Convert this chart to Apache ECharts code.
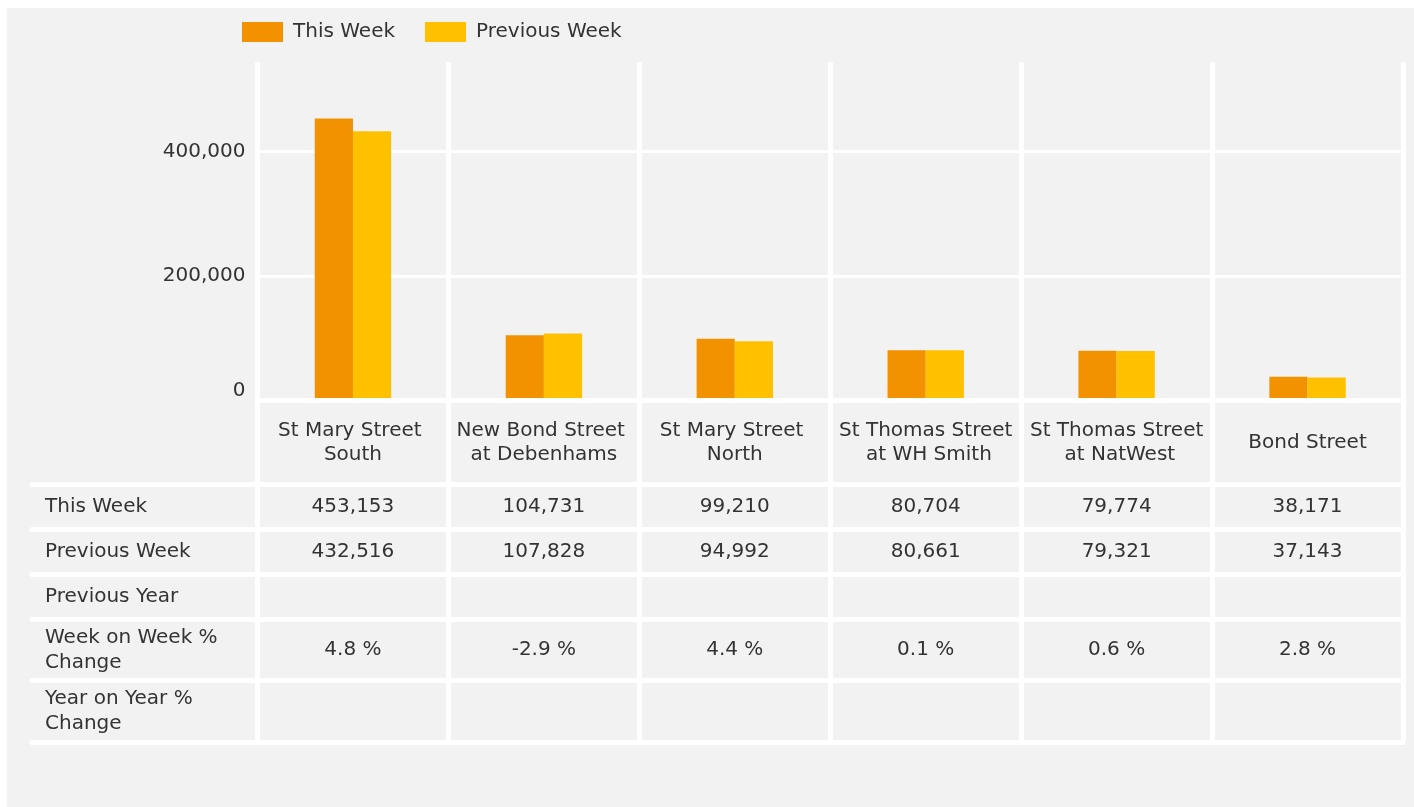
<!DOCTYPE html>
<html>
<head>
<meta charset="utf-8">
<title>Footfall by location</title>
<script src="https://cdn.jsdelivr.net/npm/echarts@6/dist/echarts.min.js"></script>
<style>
  html, body { margin: 0; padding: 0; background: #fff; }
  #chart { position: absolute; left: 7px; top: 8px; width: 1407px; height: 799px; }
</style>
</head>
<body>
<div id="chart"></div>
<script>
// data
const categories = ['St Mary Street South', 'New Bond Street at Debenhams', 'St Mary Street North', 'St Thomas Street at WH Smith', 'St Thomas Street at NatWest', 'Bond Street']
const thisWeek = [453153, 104731, 99210, 80704, 79774, 38171]
const previousWeek = [432516, 107828, 94992, 80661, 79321, 37143]
const previousYear = [null, null, null, null, null, null]
const weekOnWeekChange = [4.8, -2.9, 4.4, 0.1, 0.6, 2.8]
const yearOnYearChange = [null, null, null, null, null, null]
const seriesNames = ['This Week', 'Previous Week']
const rowNames = ['This Week', 'Previous Week', 'Previous Year', 'Week on Week % Change', 'Year on Year % Change']
const yTickStep = 200000

const FONT = 'DejaVu Sans'
const FONT_SIZE = 20
const TEXT = '#333333'
const LINE = '#ffffff'
const colors = ['#F39200', '#FFC000']

// layout (px, relative to the chart box)
const plotLeft = 250.5
const plotRight = 11
const plotTop = 54
const zeroY = 392.5
const labelLeft = 25
const labelWidth = 223
const rowHeights = [84, 45, 45, 45, 61, 62]

const fmtNum = v => v.toLocaleString('en-US')
const fmtPct = v => v.toFixed(1) + ' %'

const tableRows = [
  { name: '', values: categories, fmt: v => v },
  { name: rowNames[0], values: thisWeek, fmt: fmtNum },
  { name: rowNames[1], values: previousWeek, fmt: fmtNum },
  { name: rowNames[2], values: previousYear, fmt: fmtNum },
  { name: rowNames[3], values: weekOnWeekChange, fmt: fmtPct },
  { name: rowNames[4], values: yearOnYearChange, fmt: fmtPct }
]

const chart = echarts.init(document.getElementById('chart'))

const grid = [{ left: plotLeft, right: plotRight, top: plotTop, height: zeroY - plotTop }]
const xAxis = [{
  type: 'category',
  gridIndex: 0,
  data: categories,
  z: 3,
  axisLine: { lineStyle: { color: LINE, width: 5 } },
  axisTick: { show: false },
  axisLabel: { show: false },
  splitLine: { show: true, interval: 0, lineStyle: { color: LINE, width: 5 } }
}]
const yAxis = [{
  type: 'value',
  gridIndex: 0,
  min: 0,
  max: Math.max(...thisWeek, ...previousWeek) * 1.2,
  interval: yTickStep,
  axisLine: { show: false },
  axisTick: { show: false },
  axisLabel: {
    color: TEXT,
    fontFamily: FONT,
    fontSize: FONT_SIZE,
    margin: 12,
    showMaxLabel: false,
    verticalAlignMinLabel: 'bottom',
    formatter: v => (v % yTickStep === 0 ? fmtNum(v) : '')
  },
  splitLine: { show: true, showMaxLine: false, lineStyle: { color: LINE, width: 3 } }
}]

const series = seriesNames.map((name, k) => ({
  name: name,
  type: 'bar',
  xAxisIndex: 0,
  yAxisIndex: 0,
  data: k === 0 ? thisWeek : previousWeek,
  barGap: '0%',
  barCategoryGap: '60%',
  itemStyle: { color: colors[k] }
}))

let rowTop = zeroY
tableRows.forEach((row, r) => {
  const h = rowHeights[r]
  const gData = grid.length
  const gLabel = gData + 1
  grid.push({ left: plotLeft, right: plotRight, top: rowTop, height: h })
  grid.push({ left: labelLeft, width: labelWidth, top: rowTop, height: h })
  rowTop += h

  const axisIdx = xAxis.length
  // value cells
  xAxis.push({
    type: 'category',
    gridIndex: gData,
    data: categories,
    axisLine: { lineStyle: { color: LINE, width: 5 } },
    axisTick: { show: false },
    axisLabel: { show: false },
    splitLine: { show: true, interval: 0, lineStyle: { color: LINE, width: 5 } }
  })
  yAxis.push({
    type: 'category',
    gridIndex: gData,
    data: [row.name],
    axisLine: { show: false },
    axisTick: { show: false },
    axisLabel: { show: false }
  })
  // row label cell
  xAxis.push({
    type: 'category',
    gridIndex: gLabel,
    data: [''],
    axisLine: { lineStyle: { color: LINE, width: 5 } },
    axisTick: { show: false },
    axisLabel: { show: false },
    splitLine: { show: false }
  })
  yAxis.push({
    type: 'category',
    gridIndex: gLabel,
    data: [row.name],
    axisLine: { show: false },
    axisTick: { show: false },
    axisLabel: {
      inside: true,
      margin: 13,
      color: TEXT,
      fontFamily: FONT,
      fontSize: FONT_SIZE,
      lineHeight: 25,
      width: 195,
      overflow: 'break'
    }
  })

  const cells = []
  row.values.forEach((v, i) => {
    if (v !== null) cells.push({ value: [i, 0], text: row.fmt(v) })
  })
  series.push({
    type: 'scatter',
    xAxisIndex: axisIdx,
    yAxisIndex: axisIdx,
    symbolSize: 1,
    itemStyle: { color: 'rgba(0,0,0,0)', opacity: 1 },
    silent: true,
    data: cells,
    label: {
      show: true,
      position: 'inside',
      color: TEXT,
      fontFamily: FONT,
      fontSize: FONT_SIZE,
      lineHeight: 24,
      width: 180,
      overflow: 'break',
      align: 'center',
      formatter: p => p.data.text
    }
  })
})

const option = {
  backgroundColor: '#f2f2f2',
  animation: false,
  legend: {
    data: seriesNames,
    left: 230,
    top: 9,
    icon: 'rect',
    itemWidth: 41,
    itemHeight: 20,
    itemGap: 30,
    textStyle: { color: TEXT, fontFamily: FONT, fontSize: FONT_SIZE, padding: [0, 0, 0, 5] }
  },
  grid: grid,
  xAxis: xAxis,
  yAxis: yAxis,
  series: series
}

chart.setOption(option)
window.addEventListener('resize', () => chart.resize())
</script>
</body>
</html>
